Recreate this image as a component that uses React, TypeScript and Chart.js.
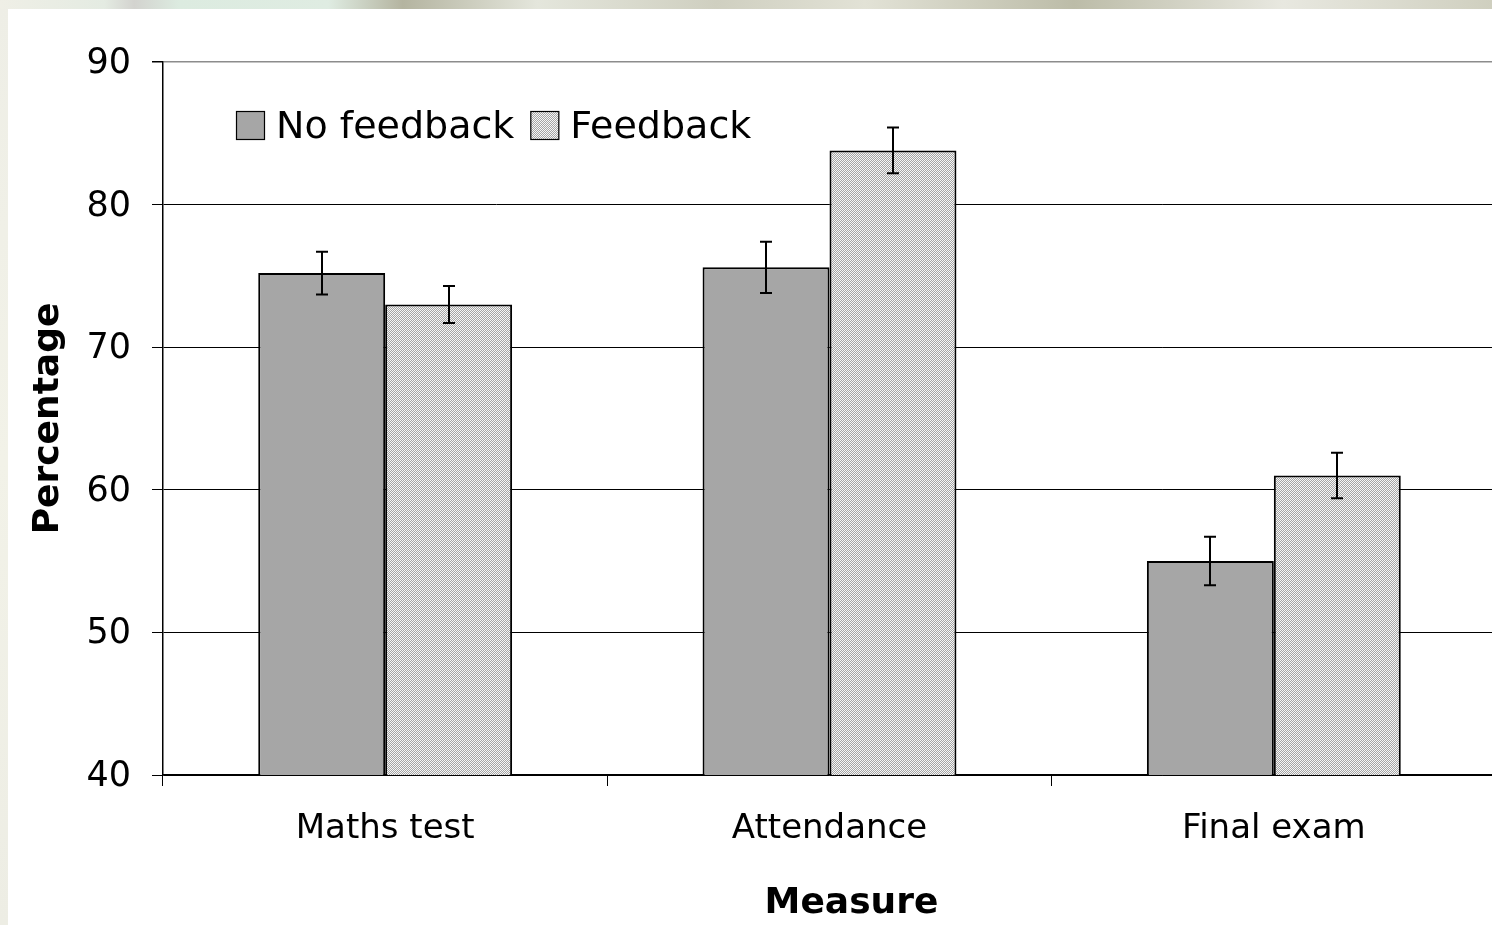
import React, { useEffect, useRef } from "react";
import { Chart, registerables } from "chart.js";

Chart.register(...registerables);

const categories = ["Maths test", "Attendance", "Final exam"];
const seriesNames = ["No feedback", "Feedback"];
const noFeedback = [75.2, 75.6, 55.0];
const feedback = [73.0, 83.8, 61.0];
const noFeedbackErr = [1.5, 1.8, 1.7];
const feedbackErr = [1.3, 1.6, 1.6];
const yMin = 40;
const yMax = 90;
const yStep = 10;
const yTitle = "Percentage";
const xTitle = "Measure";

const FONT = "'DejaVu Sans', Verdana, sans-serif";

function makePattern(): CanvasPattern | string {
  const c = document.createElement("canvas");
  c.width = 2;
  c.height = 2;
  const g = c.getContext("2d");
  if (!g) return "#cccccc";
  g.fillStyle = "#f6f6f6";
  g.fillRect(0, 0, 2, 2);
  g.fillStyle = "#a4a4a4";
  g.fillRect(0, 0, 1, 1);
  g.fillRect(1, 1, 1, 1);
  const p = g.createPattern(c, "repeat");
  return p || "#cccccc";
}

const errorBarPlugin = {
  id: "errorBars",
  afterDatasetsDraw(chart: any) {
    const ctx = chart.ctx;
    const yScale = chart.scales.y;
    const errs = [noFeedbackErr, feedbackErr];
    ctx.save();
    ctx.strokeStyle = "#000";
    ctx.lineWidth = 2;
    chart.data.datasets.forEach((ds: any, i: number) => {
      const meta = chart.getDatasetMeta(i);
      meta.data.forEach((bar: any, j: number) => {
        const v = ds.data[j];
        const e = errs[i][j];
        const x = Math.round(bar.x);
        const yt = yScale.getPixelForValue(v + e);
        const yb = yScale.getPixelForValue(v - e);
        const cap = 6;
        ctx.beginPath();
        ctx.moveTo(x, yt);
        ctx.lineTo(x, yb);
        ctx.moveTo(x - cap, yt);
        ctx.lineTo(x + cap, yt);
        ctx.moveTo(x - cap, yb);
        ctx.lineTo(x + cap, yb);
        ctx.stroke();
      });
    });
    ctx.restore();
  },
};

const legendPlugin = {
  id: "insideLegend",
  afterDraw(chart: any) {
    const ctx = chart.ctx;
    const area = chart.chartArea;
    const box = 29;
    let x = area.left + 73;
    const y = area.top + 49;
    ctx.save();
    ctx.font = `38px ${FONT}`;
    ctx.textBaseline = "middle";
    ctx.textAlign = "left";
    chart.data.datasets.forEach((ds: any) => {
      ctx.fillStyle = ds.backgroundColor;
      ctx.fillRect(x, y, box, box);
      ctx.strokeStyle = "#000";
      ctx.lineWidth = 1.2;
      ctx.strokeRect(x + 0.5, y + 0.5, box - 1, box - 1);
      ctx.fillStyle = "#000";
      const tx = x + box + 11;
      ctx.fillText(ds.label, tx, y + box / 2 + 3);
      x = tx + ctx.measureText(ds.label).width + 16;
    });
    ctx.restore();
  },
};

const xTitlePlugin = {
  id: "xTitle",
  afterDraw(chart: any) {
    const ctx = chart.ctx;
    const area = chart.chartArea;
    ctx.save();
    ctx.font = `bold 36px ${FONT}`;
    ctx.fillStyle = "#000";
    ctx.textAlign = "center";
    ctx.textBaseline = "middle";
    ctx.fillText(xTitle, (area.left + area.right) / 2 + 22, area.bottom + 129);
    ctx.restore();
  },
};

export default function App() {
  const ref = useRef<HTMLCanvasElement>(null);

  useEffect(() => {
    if (!ref.current) return;
    const pattern = makePattern();
    const chart = new Chart(ref.current, {
      type: "bar",
      data: {
        labels: categories,
        datasets: [
          {
            label: seriesNames[0],
            data: noFeedback,
            backgroundColor: "#a6a6a6",
            borderColor: "#000",
            borderWidth: 2,
            categoryPercentage: 0.5714,
            barPercentage: 1,
          },
          {
            label: seriesNames[1],
            data: feedback,
            backgroundColor: pattern as any,
            borderColor: "#000",
            borderWidth: 2,
            categoryPercentage: 0.5714,
            barPercentage: 1,
          },
        ],
      },
      options: {
        animation: false,
        responsive: false,
        devicePixelRatio: 1,
        layout: { padding: { top: 53, right: 2, left: 0, bottom: 0 } },
        plugins: {
          legend: { display: false },
          tooltip: { enabled: false },
        },
        scales: {
          x: {
            afterFit: (s: any) => {
              s.height = 150;
            },
            grid: {
              display: true,
              drawOnChartArea: false,
              drawTicks: true,
              tickLength: 11,
              color: "#000",
              tickColor: "#000",
              offset: true,
            },
            border: { display: true, color: "#000", width: 1.5 },
            ticks: {
              color: "#000",
              font: { family: FONT, size: 34 },
              padding: 23,
              maxRotation: 0,
              autoSkip: false,
            },
          },
          y: {
            min: yMin,
            max: yMax,
            afterFit: (s: any) => {
              s.width = 155;
            },
            grid: {
              color: (c: any) => (c.tick && c.tick.value === yMax ? "#8c8c8c" : "#000"),
              lineWidth: (c: any) => (c.tick && c.tick.value === yMax ? 1.5 : 1),
              tickColor: "#000",
              tickLength: 11,
              drawTicks: true,
            },
            border: { display: true, color: "#000", width: 1.5 },
            ticks: {
              stepSize: yStep,
              color: "#000",
              font: { family: FONT, size: 35 },
              padding: 21,
              labelOffset: 2,
            },
            title: {
              display: true,
              text: yTitle,
              color: "#000",
              font: { family: FONT, size: 36, weight: "bold" },
              padding: { top: 19, bottom: 0 },
            },
          },
        },
      },
      plugins: [errorBarPlugin, legendPlugin, xTitlePlugin],
    });
    return () => chart.destroy();
  }, []);

  return (
    <div
      style={{
        position: "fixed",
        left: 0,
        top: 0,
        width: 1492,
        height: 925,
        overflow: "hidden",
        background: "linear-gradient(to bottom, #eeeee6, #f2f2e8 50%, #ededE4)",
      }}
    >
      <div
        style={{
          position: "absolute",
          left: 0,
          top: 0,
          width: 1492,
          height: 9,
          background:
            "linear-gradient(to right, #efefe6 0%, #e4ebe2 7%, #d3d3cf 9%, #dcebe0 12%, #dfece2 22%, #b4b4a0 27%, #e4e6dc 36%, #cfcfc0 48%, #e2e2d6 58%, #bcbca8 72%, #e8e8e0 86%, #cfcfbf 100%)",
        }}
      />
      <div
        style={{
          position: "absolute",
          left: 8,
          top: 9,
          width: 1484,
          height: 916,
          overflow: "hidden",
          background: "#fff",
        }}
      >
        <canvas ref={ref} width={1490} height={916} style={{ display: "block", width: 1490, height: 916 }} />
      </div>
    </div>
  );
}
